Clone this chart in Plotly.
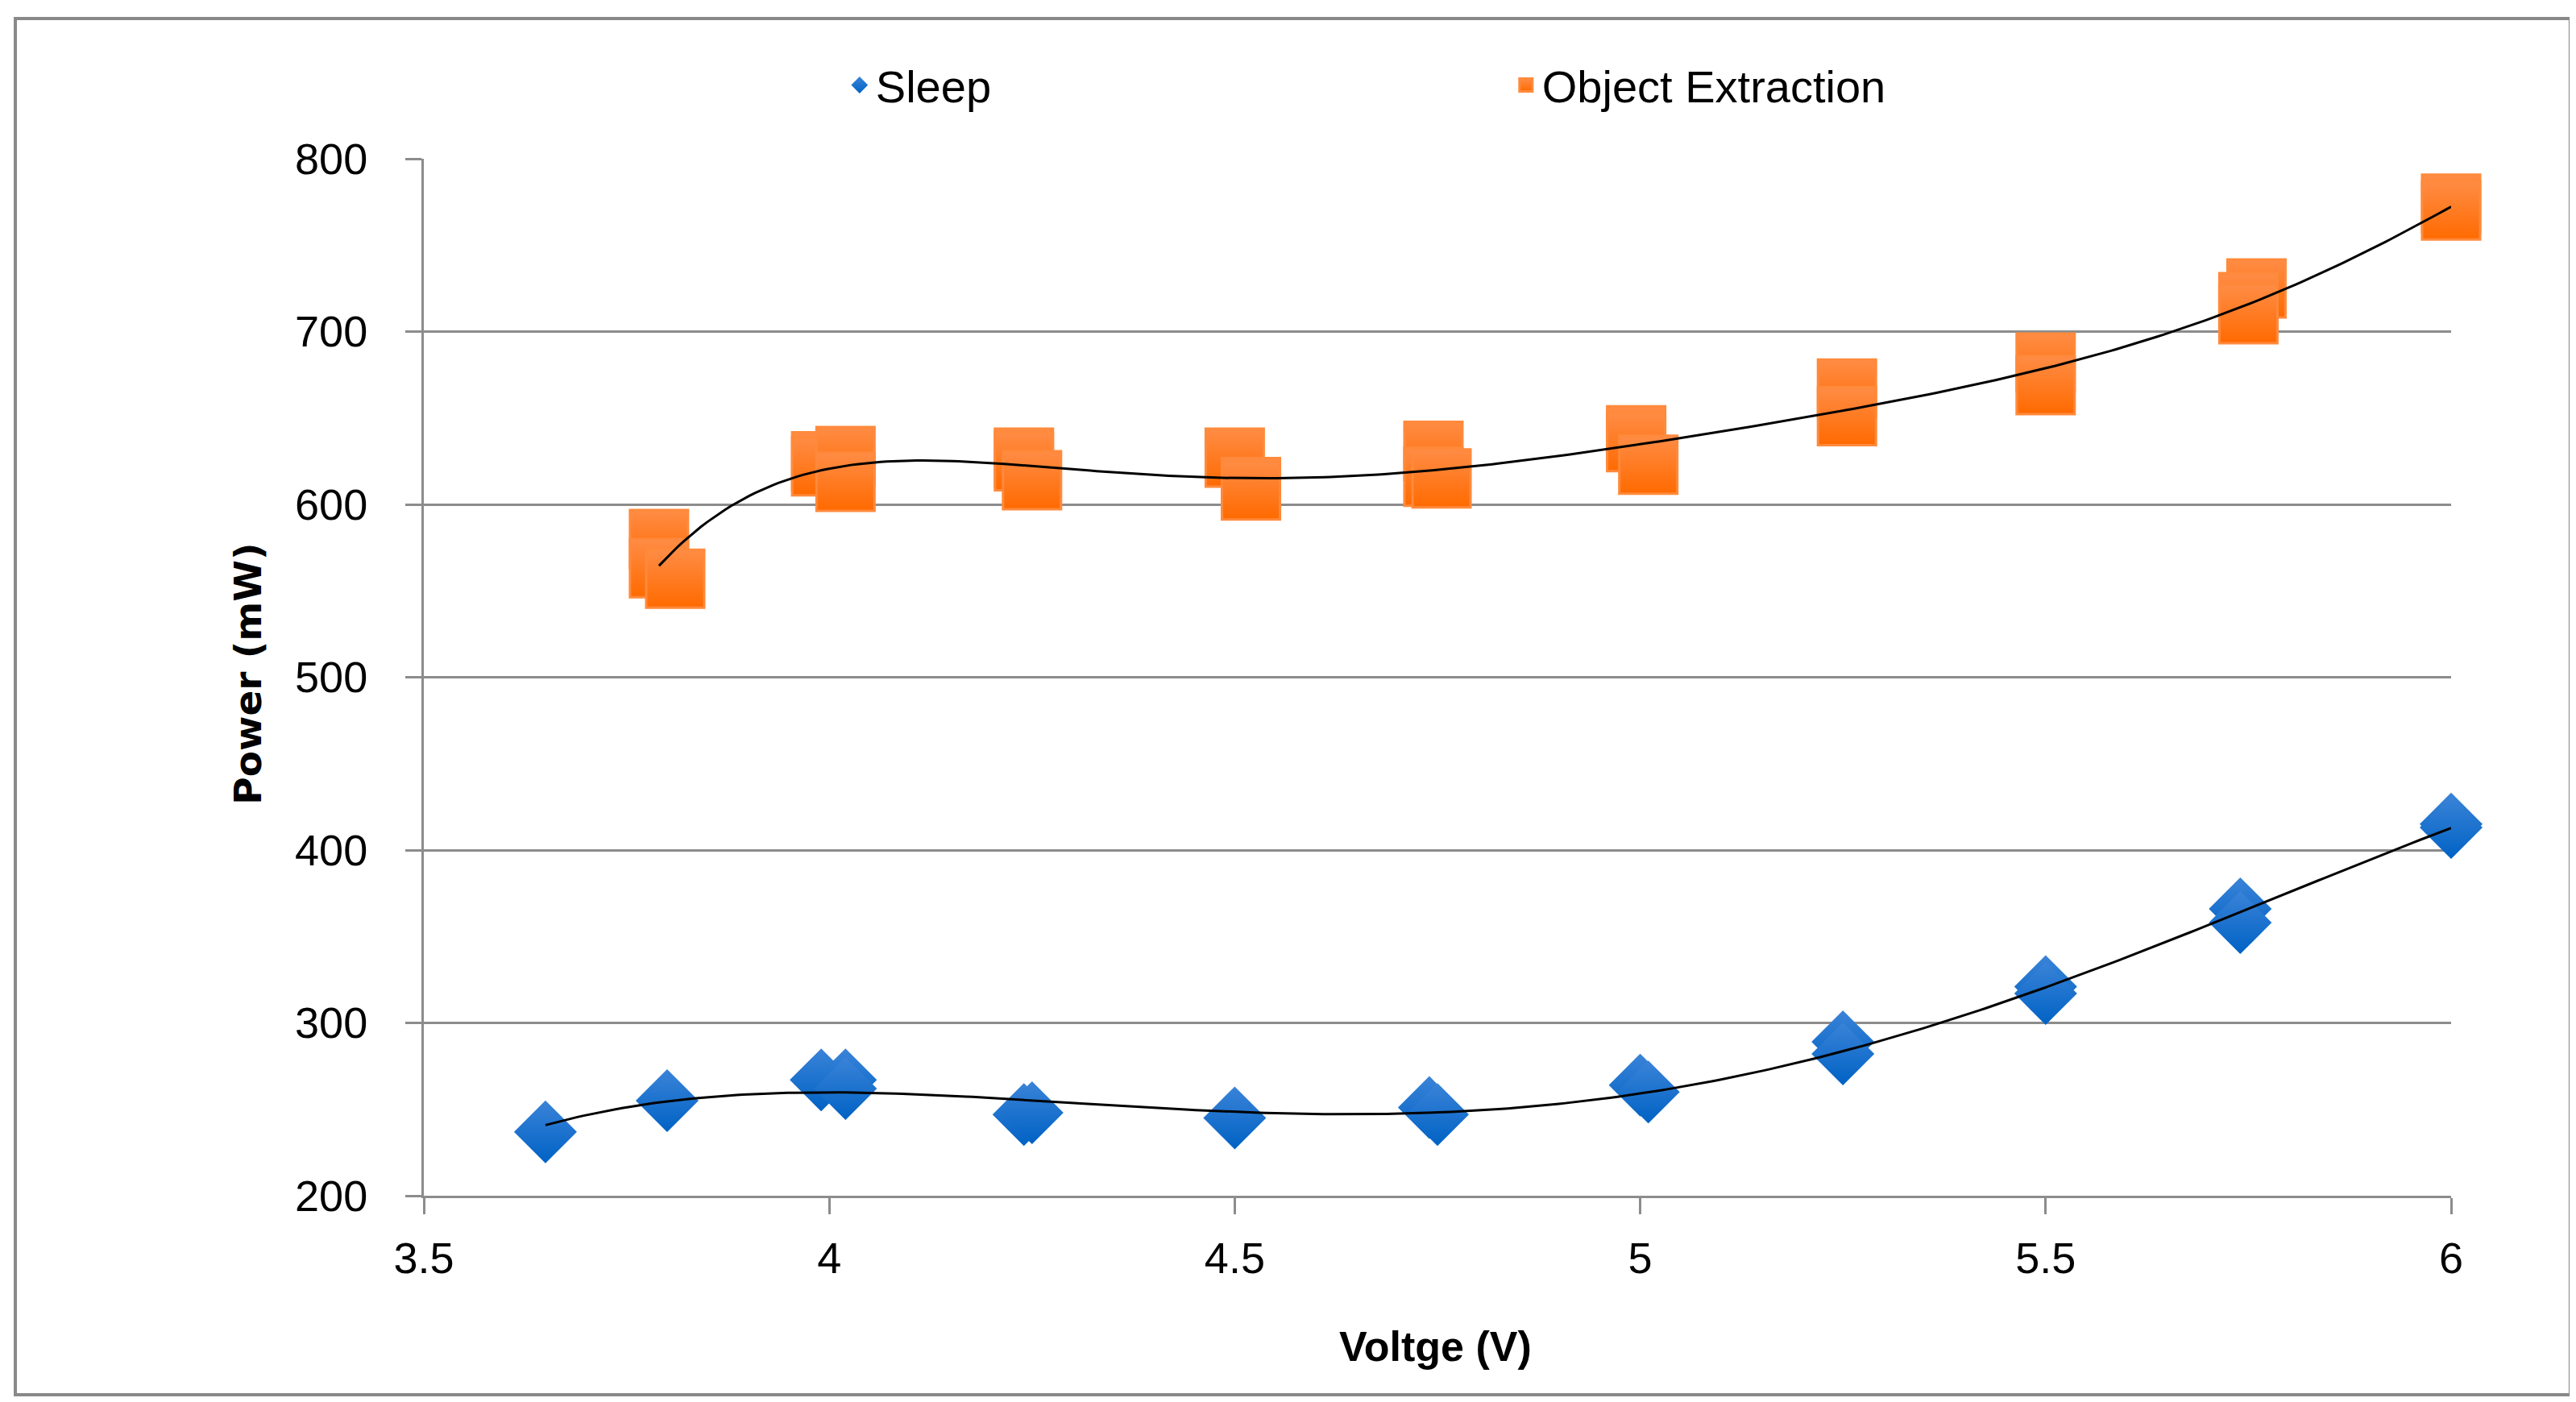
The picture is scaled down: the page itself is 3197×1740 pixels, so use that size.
import numpy as np
import plotly.graph_objects as go

# ---- data ----
sleep_v = [3.65, 3.80, 3.99, 4.02, 4.02, 4.24, 4.25, 4.50, 4.74, 4.75,
           5.00, 5.01, 5.25, 5.25, 5.50, 5.50, 5.74, 5.74, 6.00, 6.00]
sleep_p = [237, 255, 267, 267, 262, 247, 248, 245, 251, 247,
           264, 260, 289, 282, 321, 317, 366, 358, 415, 413]

obj_v = [3.79, 3.79, 3.81, 3.99, 3.99, 4.02, 4.02, 4.24, 4.24, 4.25,
         4.50, 4.52, 4.52, 4.745, 4.745, 4.755, 4.995, 4.995, 5.01,
         5.255, 5.255, 5.50, 5.50, 5.76, 5.75, 5.75, 6.00, 6.00]
obj_p = [580, 563, 557, 625, 622, 628, 613, 627, 625, 614,
         627, 610, 608, 631, 616, 615, 640, 636, 623,
         667, 651, 682, 669, 725, 717, 710, 774, 770]

x_ticks = [3.5, 4, 4.5, 5, 5.5, 6]
y_ticks = [200, 300, 400, 500, 600, 700, 800]

TICK_FONT = "Liberation Sans Narrow, Arial Narrow, Liberation Sans, sans-serif"
GRID = "#8c8c8c"

def trend(xs, ys, deg):
    c = np.polyfit(xs, ys, deg)
    xx = np.linspace(min(xs), max(xs), 300)
    return xx, np.polyval(c, xx)

fig = go.Figure()

fig.add_trace(go.Scatter(
    x=sleep_v, y=sleep_p, mode="markers", name="Sleep", cliponaxis=False,
    marker=dict(symbol="diamond", size=60, color="#3a83d8",
                gradient=dict(type="vertical", color="#0062c4"),
                line=dict(width=0))))
fig.add_trace(go.Scatter(
    x=obj_v, y=obj_p, mode="markers", name="Object Extraction", cliponaxis=False,
    marker=dict(symbol="square", size=72, color="#ff8c45",
                gradient=dict(type="vertical", color="#ff6a00"),
                line=dict(width=3, color="#ff8a3c"))))

tx, ty = trend(sleep_v, sleep_p, 4)
fig.add_trace(go.Scatter(x=tx, y=ty, mode="lines", showlegend=False, cliponaxis=False,
                         line=dict(color="black", width=3)))
tx, ty = trend(obj_v, obj_p, 6)
fig.add_trace(go.Scatter(x=tx, y=ty, mode="lines", showlegend=False, cliponaxis=False,
                         line=dict(color="black", width=3)))

fig.update_layout(
    width=3197, height=1740,
    margin=dict(l=518, r=163, t=189, b=264),
    paper_bgcolor="white", plot_bgcolor="white",
    font=dict(family=TICK_FONT, size=54, color="black"),
    showlegend=True,
    legend=dict(orientation="h", x=0.207, y=1.071, xanchor="left", yanchor="middle",
                entrywidth=782, entrywidthmode="pixels",
                font=dict(family=TICK_FONT, size=56, color="black"),
                bgcolor="rgba(0,0,0,0)"),
    xaxis=dict(range=[3.5, 6], tickvals=x_ticks, showgrid=False,
               showline=True, linecolor=GRID, linewidth=3,
               ticks="outside", ticklen=20, tickwidth=3, tickcolor=GRID,
               ticklabelstandoff=8, zeroline=False,
               tickfont=dict(family=TICK_FONT, size=54, color="black")),
    yaxis=dict(range=[200, 800], tickvals=y_ticks, showgrid=True,
               gridcolor=GRID, gridwidth=3,
               showline=True, linecolor=GRID, linewidth=3,
               ticks="outside", ticklen=20, tickwidth=3, tickcolor=GRID,
               ticklabelstandoff=36, zeroline=False,
               tickfont=dict(family=TICK_FONT, size=54, color="black")),
    annotations=[
        dict(text="<b>Power (mW)</b>", xref="paper", yref="paper",
             x=-0.0866, y=0.503, textangle=-90, showarrow=False,
             xanchor="center", yanchor="middle",
             font=dict(family="DejaVu Sans", size=47, color="black")),
        dict(text="<b>Voltge (V)</b>", xref="paper", yref="paper",
             x=0.4992, y=-0.1453, showarrow=False,
             xanchor="center", yanchor="middle",
             font=dict(family=TICK_FONT, size=52, color="black")),
    ],
    shapes=[dict(type="rect", xref="paper", yref="paper",
                 x0=-0.2015, x1=1.0588, y0=-0.1919, y1=1.1352,
                 line=dict(color="#898989", width=4), layer="below")],
)

fig.write_html("out.html")
